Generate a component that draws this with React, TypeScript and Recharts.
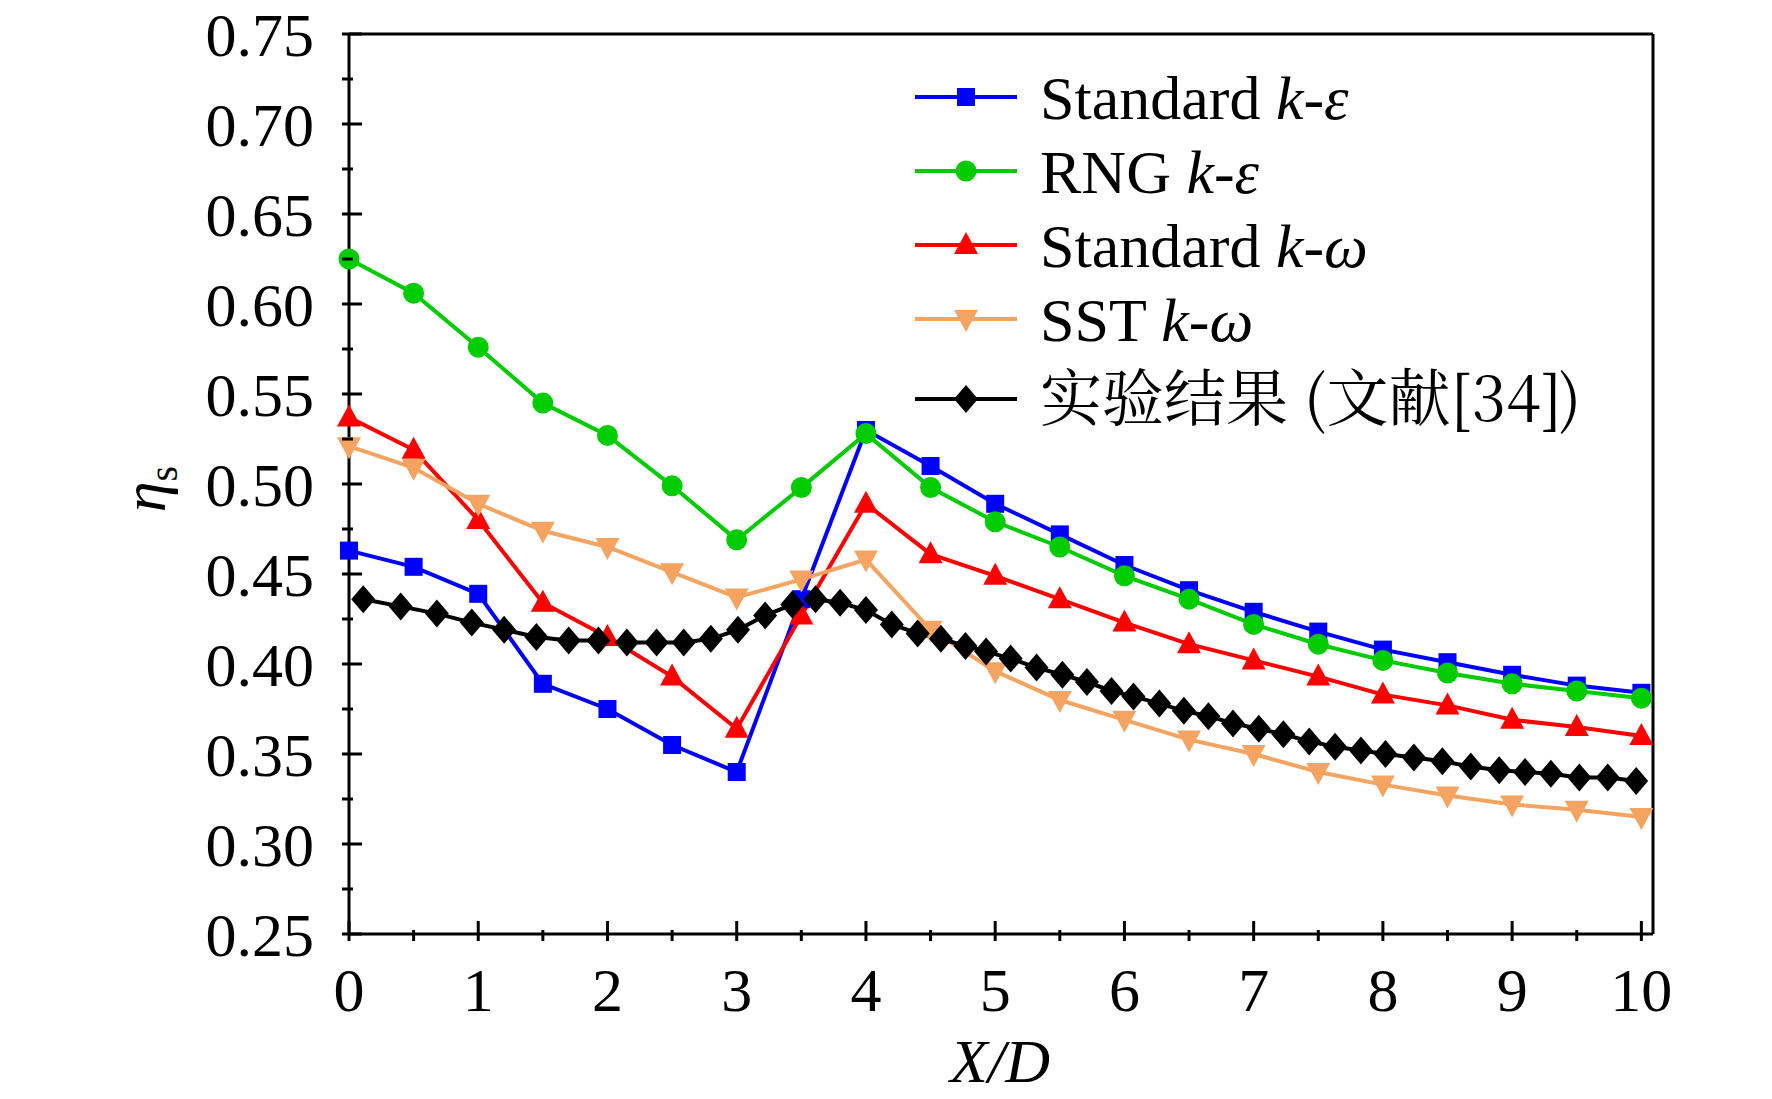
import React from "react";
import { LineChart, Line, XAxis, YAxis } from "recharts";

const modelX = [0, 0.5, 1, 1.5, 2, 2.5, 3, 3.5, 4, 4.5, 5, 5.5, 6, 6.5, 7, 7.5, 8, 8.5, 9, 9.5, 10];
const stdKe = [0.463, 0.454, 0.439, 0.389, 0.375, 0.355, 0.340, 0.436, 0.530, 0.510, 0.489, 0.472, 0.455, 0.441, 0.429, 0.418, 0.408, 0.401, 0.394, 0.388, 0.384];
const rngKe = [0.625, 0.606, 0.576, 0.545, 0.527, 0.499, 0.469, 0.498, 0.528, 0.498, 0.479, 0.465, 0.449, 0.436, 0.422, 0.411, 0.402, 0.395, 0.389, 0.385, 0.381];
const stdKw = [0.537, 0.519, 0.480, 0.434, 0.415, 0.393, 0.364, 0.427, 0.489, 0.461, 0.449, 0.436, 0.423, 0.411, 0.402, 0.393, 0.383, 0.377, 0.369, 0.365, 0.360];
const sstKw = [0.521, 0.509, 0.489, 0.474, 0.465, 0.451, 0.437, 0.447, 0.458, 0.419, 0.396, 0.380, 0.369, 0.358, 0.350, 0.340, 0.333, 0.327, 0.322, 0.319, 0.315];
const expX = [0.11, 0.40, 0.68, 0.95, 1.20, 1.45, 1.70, 1.93, 2.15, 2.38, 2.59, 2.80, 3.01, 3.22, 3.43, 3.61, 3.80, 4.00, 4.20, 4.40, 4.58, 4.77, 4.93, 5.12, 5.32, 5.52, 5.71, 5.90, 6.07, 6.27, 6.46, 6.65, 6.84, 7.04, 7.23, 7.43, 7.63, 7.83, 8.02, 8.24, 8.46, 8.68, 8.90, 9.10, 9.30, 9.52, 9.74, 9.96];
const expY = [0.436, 0.432, 0.428, 0.423, 0.419, 0.415, 0.413, 0.413, 0.412, 0.412, 0.412, 0.414, 0.419, 0.427, 0.433, 0.436, 0.434, 0.430, 0.422, 0.417, 0.414, 0.410, 0.407, 0.403, 0.398, 0.394, 0.390, 0.385, 0.382, 0.378, 0.374, 0.371, 0.367, 0.364, 0.361, 0.357, 0.354, 0.352, 0.350, 0.348, 0.346, 0.343, 0.341, 0.340, 0.339, 0.337, 0.337, 0.335];
const yTicks = [0.25, 0.275, 0.3, 0.325, 0.35, 0.375, 0.4, 0.425, 0.45, 0.475, 0.5, 0.525, 0.55, 0.575, 0.6, 0.625, 0.65, 0.675, 0.7, 0.725, 0.75];
const xTicks = [0, 0.5, 1, 1.5, 2, 2.5, 3, 3.5, 4, 4.5, 5, 5.5, 6, 6.5, 7, 7.5, 8, 8.5, 9, 9.5, 10];

const mk = (xs: number[], ys: number[]) => xs.map((x, i) => ({ x, y: ys[i] }));
const FONT = "'Liberation Serif', 'Times New Roman', serif";
const FS = 62;

const Square = (p: any) => <rect x={p.cx - 9} y={p.cy - 9} width={18} height={18} fill={p.fill} />;
const Circle = (p: any) => <circle cx={p.cx} cy={p.cy} r={10.5} fill={p.fill} />;
const TriUp = (p: any) => <path d={`M${p.cx},${p.cy - 13} L${p.cx + 12},${p.cy + 9} L${p.cx - 12},${p.cy + 9} Z`} fill={p.fill} />;
const TriDown = (p: any) => <path d={`M${p.cx},${p.cy + 13} L${p.cx + 12},${p.cy - 9} L${p.cx - 12},${p.cy - 9} Z`} fill={p.fill} />;
const Diamond = (p: any) => <path d={`M${p.cx},${p.cy - 14} L${p.cx + 12},${p.cy} L${p.cx},${p.cy + 14} L${p.cx - 12},${p.cy} Z`} fill={p.fill} />;

const series = [
  { name: "std-ke", data: mk(modelX, stdKe), color: "#0000ff", Shape: Square, label: ["Standard ", "k", "-ε"] },
  { name: "rng-ke", data: mk(modelX, rngKe), color: "#00cc00", Shape: Circle, label: ["RNG ", "k", "-ε"] },
  { name: "std-kw", data: mk(modelX, stdKw), color: "#ff0000", Shape: TriUp, label: ["Standard ", "k", "-ω"] },
  { name: "sst-kw", data: mk(modelX, sstKw), color: "#f4a460", Shape: TriDown, label: ["SST ", "k", "-ω"] },
  { name: "exp", data: mk(expX, expY), color: "#000000", Shape: Diamond, label: ["实验结果 (文献[34])", "", ""] },
];

const YTick = (p: any) => {
  const v = p.payload.value;
  const major = Math.abs(v * 20 - Math.round(v * 20)) < 1e-6;
  const x = p.x + 1;
  return (
    <g>
      <line x1={x} x2={x + (major ? 20 : 11)} y1={p.y} y2={p.y} stroke="#000" strokeWidth={3} />
      {major && (
        <text x={x - 28} y={p.y} dy={22} textAnchor="end" fontSize={FS} fontFamily={FONT} fill="#000">
          {v.toFixed(2)}
        </text>
      )}
    </g>
  );
};
const XTick = (p: any) => {
  const v = p.payload.value;
  const major = Number.isInteger(v);
  const y = p.y - 1;
  return (
    <g>
      <line x1={p.x} x2={p.x} y1={y} y2={y - (major ? 20 : 11)} stroke="#000" strokeWidth={3} />
      {major && (
        <text x={p.x} y={y + 70} textAnchor="middle" fontSize={FS} fontFamily={FONT} fill="#000">
          {v}
        </text>
      )}
    </g>
  );
};

export default function App() {
  const left = 348, top = 33, right = 118, bottom = 164;
  return (
    <div style={{ position: "relative", margin: -8, width: 1772, height: 1099, background: "#fff" }}>
      <LineChart width={1772} height={1099} margin={{ left, top, right, bottom }}>
        <XAxis xAxisId="b" type="number" dataKey="x" domain={[0, 10.09]} ticks={xTicks} height={1} tick={<XTick />} tickLine={false} axisLine={{ stroke: "#000", strokeWidth: 3 }} interval={0} />
        <XAxis xAxisId="t" orientation="top" type="number" dataKey="x" domain={[0, 10.09]} height={1} tick={false} tickLine={false} axisLine={{ stroke: "#000", strokeWidth: 3 }} />
        <YAxis yAxisId="l" type="number" domain={[0.25, 0.75]} ticks={yTicks} width={1} tick={<YTick />} tickLine={false} axisLine={{ stroke: "#000", strokeWidth: 3 }} interval={0} />
        <YAxis yAxisId="r" orientation="right" type="number" domain={[0.25, 0.75]} width={1} tick={false} tickLine={false} axisLine={{ stroke: "#000", strokeWidth: 3 }} />
        {series.map((s) => (
          <Line key={s.name} xAxisId="b" yAxisId="l" data={s.data} dataKey="y" stroke={s.color} strokeWidth={4} fill={s.color} dot={<s.Shape fill={s.color} />} isAnimationActive={false} />
        ))}
      </LineChart>
      <svg width={1772} height={1099} style={{ position: "absolute", left: 0, top: 0, pointerEvents: "none" }}>
        {series.map((s, i) => {
          const y = 97 + i * 74 + (i === 4 ? 6 : 0);
          return (
            <g key={s.name}>
              <line x1={915} x2={1017} y1={y} y2={y} stroke={s.color} strokeWidth={4} />
              <s.Shape cx={966} cy={y} fill={s.color} />
              <text x={1040} y={y + 22} fontSize={FS} fontFamily={i === 4 ? "'Noto Serif CJK SC', 'Noto Sans CJK SC', serif" : FONT} fill="#000">
                {s.label[0]}
                {s.label[1] && <tspan fontStyle="italic">{s.label[1]}</tspan>}
                {s.label[2] && <tspan fontStyle="italic">{s.label[2]}</tspan>}
              </text>
            </g>
          );
        })}
        <text x={0} y={0} transform="translate(165,489) rotate(-90)" textAnchor="middle" fontSize={FS} fontFamily={FONT} fill="#000">
          <tspan fontStyle="italic">η</tspan>
          <tspan fontSize={40} dy={12}>s</tspan>
        </text>
        <text x={1000} y={1082} textAnchor="middle" fontSize={FS} fontFamily={FONT} fontStyle="italic" fill="#000">X/D</text>
      </svg>
    </div>
  );
}
